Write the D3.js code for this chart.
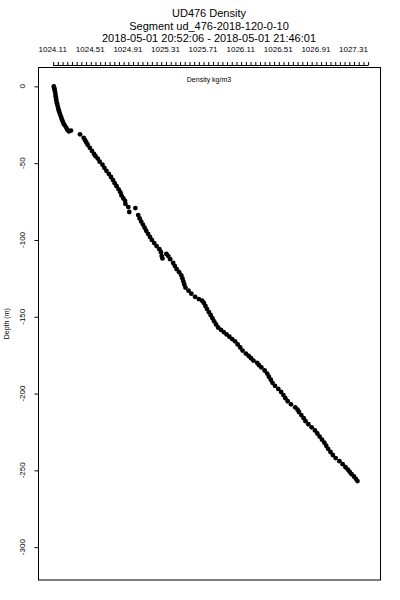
<!DOCTYPE html>
<html>
<head>
<meta charset="utf-8">
<script src="https://cdn.jsdelivr.net/npm/d3@7"></script>
<style>
  body { margin: 0; background: #fff; }
  text { font-family: "Liberation Sans", Arial, sans-serif; fill: #000; }
</style>
</head>
<body>
<div id="chart"></div>
<script>
// chart text
const titleLines = [
  'UD476 Density',
  'Segment ud_476-2018-120-0-10',
  '2018-05-01 20:52:06 - 2018-05-01 21:46:01'
];
const xLabel = 'Density kg/m3';
const yLabel = 'Depth (m)';

// axis ticks
const xLabelTicks = [1024.11, 1024.51, 1024.91, 1025.31, 1025.71, 1026.11, 1026.51, 1026.91, 1027.31];
const xMinorStart = 1024.11;
const xMinorStep = 0.05;
const xMinorCount = 68;
const yTicks = [0, -50, -100, -150, -200, -250, -300];

// profile samples (depth in m, density in kg/m3)
const depth = [
  0, -1, -2, -3.5, -5, -6.5, -8, -9.5, -11, -12.5, -14, -15.5, -17, -18.5, -20, -21.5,
  -23, -24.5, -25.5, -27, -28.3, -29.3, -28.8,
  -31.2, -33.5, -35, -36.5, -38, -40, -42, -44, -45.5, -47, -49, -51, -53, -55, -57,
  -59, -61, -63, -65, -67, -69, -71, -73, -74.5, -76.5, -78.6, -81.8, -79.2, -83.8,
  -86, -88, -90, -92, -94, -96, -98, -100, -102, -104, -106, -108, -110.5, -112,
  -109, -110.5, -112.5, -115, -117, -119, -121, -123, -125, -127, -129, -131, -133,
  -135, -137, -138.5, -139.5, -141, -143, -145, -147, -149, -151, -153, -155, -157,
  -158.5, -160, -161.5, -163, -164.5, -166, -168, -170, -172, -174, -175.5, -177,
  -178.5, -180, -181.5, -183, -185, -187, -189, -191, -193, -195, -197, -199, -201,
  -203, -205, -207, -209, -210.5, -212, -214, -216, -218, -220, -222, -224, -226,
  -228, -230, -232, -234, -236, -238, -240, -242, -244, -246, -248, -249.5, -251,
  -252.5, -254, -255.5, -257
];
const density = [
  1024.122, 1024.126, 1024.130, 1024.135, 1024.139, 1024.142, 1024.146, 1024.150,
  1024.156, 1024.162, 1024.168, 1024.175, 1024.182, 1024.190, 1024.200, 1024.208,
  1024.218, 1024.228, 1024.240, 1024.255, 1024.266, 1024.282, 1024.305,
  1024.401, 1024.440, 1024.455, 1024.468, 1024.482, 1024.505, 1024.528, 1024.550,
  1024.566, 1024.590, 1024.610, 1024.640, 1024.660, 1024.682, 1024.708, 1024.730,
  1024.752, 1024.770, 1024.790, 1024.812, 1024.830, 1024.842, 1024.862, 1024.880,
  1024.884, 1024.915, 1024.925, 1024.990, 1025.020,
  1025.035, 1025.052, 1025.070, 1025.088, 1025.105, 1025.125, 1025.145, 1025.165,
  1025.190, 1025.215, 1025.245, 1025.262, 1025.270, 1025.278,
  1025.320, 1025.340, 1025.360, 1025.392, 1025.410, 1025.430, 1025.455, 1025.478,
  1025.490, 1025.500, 1025.510, 1025.522, 1025.555, 1025.585, 1025.625, 1025.665,
  1025.700, 1025.718, 1025.735, 1025.752, 1025.772, 1025.792, 1025.810, 1025.828,
  1025.848, 1025.870, 1025.900, 1025.930, 1025.960, 1025.990, 1026.020, 1026.050,
  1026.078, 1026.105, 1026.130, 1026.165, 1026.195, 1026.220, 1026.245, 1026.285,
  1026.305, 1026.330, 1026.365, 1026.392, 1026.410, 1026.430, 1026.448, 1026.475,
  1026.510, 1026.540, 1026.565, 1026.585, 1026.610, 1026.645, 1026.690, 1026.715,
  1026.730, 1026.755, 1026.780, 1026.800, 1026.830, 1026.865, 1026.900, 1026.925,
  1026.950, 1026.975, 1027.000, 1027.020, 1027.040, 1027.065, 1027.090, 1027.120,
  1027.160, 1027.195, 1027.225, 1027.250, 1027.270, 1027.290, 1027.315, 1027.335,
  1027.352
];

const width = 400;
const height = 600;
const box = { left: 38, right: 380, top: 67.5, bottom: 580 };

const svg = d3
  .select('#chart')
  .append('svg')
  .attr('width', width)
  .attr('height', height);

const x = d3.scaleLinear().domain([1023.954, 1027.592]).range([box.left, box.right]);
const y = d3.scaleLinear().domain([12.3, -321.4]).range([box.top, box.bottom]);

// titles
svg
  .append('g')
  .attr('text-anchor', 'middle')
  .selectAll('text')
  .data(titleLines)
  .join('text')
  .attr('x', (box.left + box.right) / 2)
  .attr('y', (d, i) => 17 + i * 12.5)
  .style('font-size', '11px')
  .text(d => d);

// plot frame
svg
  .append('rect')
  .attr('x', box.left + 0.5)
  .attr('y', box.top)
  .attr('width', box.right - box.left)
  .attr('height', box.bottom - box.top)
  .attr('fill', 'none')
  .attr('stroke', '#000')
  .attr('stroke-width', 1);

// top axis: dense minor ticks, labels every 8th tick
const minorTicks = d3.range(xMinorCount).map(i => xMinorStart + i * xMinorStep);
const xAxis = d3
  .axisTop(x)
  .tickValues(minorTicks)
  .tickSize(3.5)
  .tickFormat('');
svg
  .append('g')
  .attr('transform', 'translate(0.5,65.5)')
  .call(xAxis)
  .call(g => g.select('.domain').attr('d', `M${x(minorTicks[0])},0H${x(minorTicks[minorTicks.length - 1])}`));

svg
  .append('g')
  .attr('text-anchor', 'middle')
  .selectAll('text')
  .data(xLabelTicks)
  .join('text')
  .attr('x', d => x(d))
  .attr('y', 51.5)
  .style('font-size', '8px')
  .text(d => d.toFixed(2));

// left axis
const yAxis = d3.axisLeft(y).tickValues(yTicks).tickSize(4).tickFormat('');
svg
  .append('g')
  .attr('transform', `translate(${box.left + 0.5},0)`)
  .call(yAxis)
  .call(g => g.select('.domain').remove());

svg
  .append('g')
  .attr('text-anchor', 'middle')
  .selectAll('text')
  .data(yTicks)
  .join('text')
  .attr('transform', d => `translate(25,${y(d)}) rotate(-90)`)
  .style('font-size', '8px')
  .text(d => d);

// axis titles
svg
  .append('text')
  .attr('text-anchor', 'middle')
  .attr('transform', `translate(9,${(box.top + box.bottom) / 2}) rotate(-90)`)
  .style('font-size', '7px')
  .text(yLabel);

svg
  .append('text')
  .attr('text-anchor', 'middle')
  .attr('x', (box.left + box.right) / 2)
  .attr('y', 82)
  .style('font-size', '7px')
  .text(xLabel);

// profile points
svg
  .append('g')
  .selectAll('circle')
  .data(depth.map((d, i) => ({ depth: d, density: density[i] })))
  .join('circle')
  .attr('cx', d => x(d.density))
  .attr('cy', d => y(d.depth))
  .attr('r', 2.4)
  .attr('fill', '#000');
</script>
</body>
</html>
